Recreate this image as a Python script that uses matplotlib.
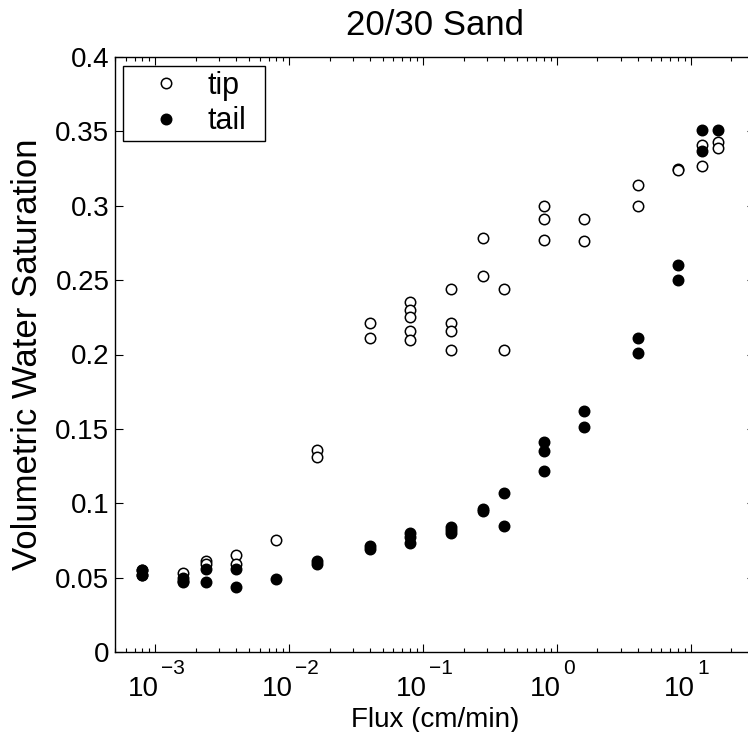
import matplotlib
matplotlib.use("Agg")
import matplotlib.pyplot as plt
import matplotlib.transforms as mtransforms
import numpy as np

plt.rcParams['font.family'] = ['Liberation Sans', 'DejaVu Sans']

# Tip data (open circles)
tip_flux = [0.0008, 0.0008, 0.0016, 0.0024, 0.0024, 0.004, 0.004, 0.008,
            0.016, 0.016, 0.04, 0.04,
            0.08, 0.08, 0.08, 0.08, 0.08,
            0.16, 0.16, 0.16, 0.16, 0.28, 0.28, 0.4, 0.4,
            0.8, 0.8, 0.8, 1.6, 1.6, 4, 4, 8, 8, 12, 12, 16, 16]
tip_sat = [0.055, 0.052, 0.053, 0.061, 0.059, 0.065, 0.059, 0.075,
           0.136, 0.131, 0.221, 0.211,
           0.235, 0.230, 0.225, 0.216, 0.210,
           0.244, 0.221, 0.216, 0.203, 0.278, 0.253, 0.244, 0.203,
           0.300, 0.291, 0.277, 0.291, 0.276, 0.314, 0.300, 0.325, 0.324,
           0.341, 0.327, 0.343, 0.339]

# Tail data (filled circles)
tail_flux = [0.0008, 0.0008, 0.0016, 0.0016, 0.0016, 0.0024, 0.0024,
             0.004, 0.004, 0.008, 0.016, 0.016, 0.04, 0.04,
             0.08, 0.08, 0.08, 0.16, 0.16, 0.16, 0.28, 0.28, 0.4, 0.4,
             0.8, 0.8, 0.8, 1.6, 1.6, 4, 4, 8, 8, 12, 12, 16]
tail_sat = [0.055, 0.052, 0.050, 0.048, 0.047, 0.056, 0.047,
            0.056, 0.044, 0.049, 0.061, 0.059, 0.071, 0.069,
            0.080, 0.077, 0.073, 0.084, 0.082, 0.080, 0.096, 0.095, 0.107, 0.085,
            0.141, 0.135, 0.122, 0.162, 0.151, 0.211, 0.201, 0.260, 0.250,
            0.351, 0.337, 0.351]

ytick_vals = [0, 0.05, 0.1, 0.15, 0.2, 0.25, 0.3, 0.35, 0.4]
ytick_labels = ['0', '0.05', '0.1', '0.15', '0.2', '0.25', '0.3', '0.35', '0.4']
xtick_exponents = [-3, -2, -1, 0, 1]

fig = plt.figure(figsize=(7.48, 7.32), dpi=100)
W, H = 748.0, 732.0
AX_W, AX_H = 755 - 115, 652 - 57
ax = fig.add_axes([115 / W, 80 / H, AX_W / W, AX_H / H])

ax.plot(tip_flux, tip_sat, 'o', markerfacecolor='white', markeredgecolor='black',
        markersize=7.5, markeredgewidth=1.1, label='tip', linestyle='none')
ax.plot(tail_flux, tail_sat, 'o', markerfacecolor='black', markeredgecolor='black',
        markersize=7.5, markeredgewidth=1.1, label='tail', linestyle='none')

ax.set_xscale('log')
ax.set_xlim(5e-4, 30)
ax.set_ylim(0, 0.4)
ax.set_yticks(ytick_vals)
ax.set_yticklabels(ytick_labels)
ax.set_xticks([10.0 ** e for e in xtick_exponents])
ax.set_xticklabels([])

ax.tick_params(axis='both', which='major', direction='in', length=6, width=0.8,
               top=True, right=True, labelsize=20)
ax.tick_params(axis='y', which='major', pad=4)
ax.tick_params(axis='x', which='minor', direction='in', length=3, width=0.8,
               top=True, bottom=True)
for s in ax.spines.values():
    s.set_linewidth(1.0)

# x tick labels drawn as base + superscript (MATLAB style)
trans = mtransforms.blended_transform_factory(ax.transData, ax.transAxes)
for e in xtick_exponents:
    xv = 10.0 ** e
    base_tr = trans + mtransforms.ScaledTranslation(4 / 100, -44 / 100, fig.dpi_scale_trans)
    ax.text(xv, 0, '10', transform=base_tr, ha='right', va='baseline', fontsize=20)
    exp_tr = trans + mtransforms.ScaledTranslation(6 / 100, -22 / 100, fig.dpi_scale_trans)
    ax.text(xv, 0, str(e).replace('-', '\u2212'), transform=exp_tr, ha='left',
            va='baseline', fontsize=15)

ax.set_title('20/30 Sand', fontsize=25, pad=16)
ax.set_xlabel('Flux (cm/min)', fontsize=20)
ax.xaxis.set_label_coords(0.5, -(727 - 652) / AX_H)
ax.xaxis.label.set_va('baseline')
ax.set_ylabel('Volumetric Water Saturation', fontsize=25)
ax.yaxis.set_label_coords(-(115 - 28) / AX_W, 0.5)
ax.yaxis.label.set_va('center')

leg_h = 74 / AX_H
leg = ax.legend(loc='upper left',
                bbox_to_anchor=(8 / AX_W, 1 - 9 / AX_H - leg_h, 142 / AX_W, leg_h),
                mode='expand', borderaxespad=0, fontsize=22, frameon=True,
                fancybox=False, edgecolor='black', framealpha=1, handlelength=2.5,
                handletextpad=0.12, borderpad=0.155, labelspacing=0.18, numpoints=1)
leg.get_frame().set_linewidth(1.0)

fig.savefig('out.png', dpi=100)
